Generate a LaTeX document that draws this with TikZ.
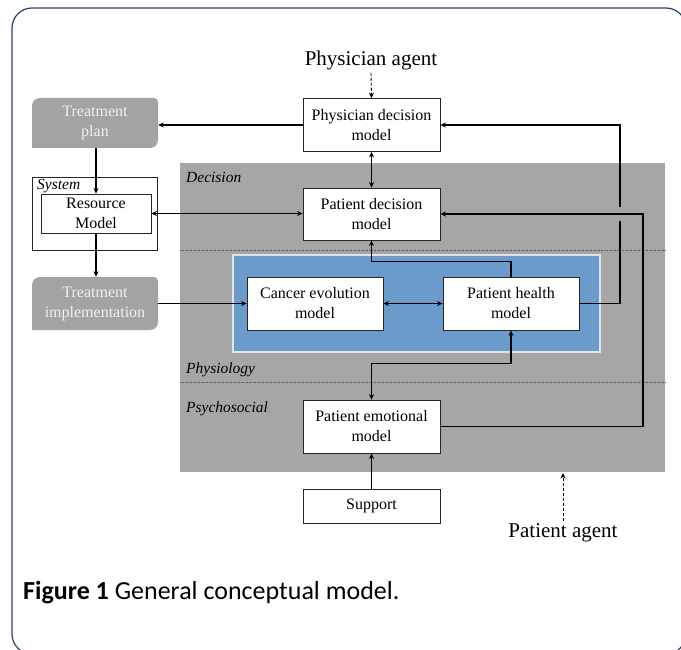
\documentclass[tikz,border=0pt]{standalone}
\usepackage{fontspec}
\setmainfont{Liberation Serif}
\newfontfamily\capfont{Carlito}
\usetikzlibrary{arrows.meta,calc}
\definecolor{frameblue}{HTML}{2B3F6B}
\definecolor{bggray}{HTML}{A6A6A6}
\definecolor{tgray}{HTML}{A3A3A3}
\definecolor{midblue}{HTML}{6B9BCB}
\definecolor{lightedge}{HTML}{DCE6F2}
\definecolor{dotgray}{HTML}{5A5A5A}
\tikzset{
  box/.style={draw=black!85, line width=0.8pt, fill=white, align=center, inner sep=0pt,
    font=\fontsize{16}{20}\selectfont},
  grbox/.style={align=center, inner sep=0pt, text=white!94!black,
    font=\fontsize{16}{20}\selectfont},
  lab/.style={anchor=west, inner sep=0pt, font=\fontsize{15.5}{17}\selectfont\itshape},
  agent/.style={inner sep=0pt, font=\fontsize{21}{24}\selectfont},
  arr/.style={line width=1.3pt, -{Stealth[length=5.5pt,width=5pt]}},
  darr/.style={line width=1.3pt, {Stealth[length=5.5pt,width=5pt]}-{Stealth[length=5.5pt,width=5pt]}},
  dasharr/.style={line width=0.9pt, dashed, dash pattern=on 3pt off 2pt, -{Stealth[length=5.5pt,width=5pt]}},
  sep/.style={densely dotted, dotgray, line width=0.6pt}
}
\begin{document}
\begin{tikzpicture}[x=1pt,y=-1pt]
\useasboundingbox (0,0) rectangle (681,650);
\begin{scope}
\clip (0,0) rectangle (681,650);
\draw[frameblue, line width=1.2pt, rounded corners=20pt] (12,8) rectangle (686,654);
\end{scope}

% background regions
\fill[bggray] (180,163) rectangle (665,472);
\draw[sep] (180,250) -- (665,250);
\draw[sep] (180,382) -- (665,382);
\fill[midblue, draw=lightedge, line width=1.5pt] (233,255) rectangle (600,352);

% labels
\node[lab] (ldec) at (186,177) {Decision};
\node[lab] (lphy) at (186,370) {Physiology};
\node[lab] (lpsy) at (186,409) {Psychosocial};

% system box
\draw[black!85, line width=0.8pt] (32,177) rectangle (157,250);
\node[lab] (lsys) at (37,186) {System};

% treatment shapes (drawn before their text)
\fill[tgray] (32,148) -- (32,106) to[out=90,in=180] (40,98) -- (154,98) to[out=0,in=90] (158,102) -- (158,140) to[out=270,in=0] (150,148) -- cycle;
\fill[tgray] (32,330) -- (32,285) to[out=90,in=180] (40,277) -- (154,277) to[out=0,in=90] (158,281) -- (158,322) to[out=270,in=0] (150,330) -- cycle;

% nodes
\node[box, minimum width=137pt, minimum height=53pt] (pdm) at (371.5,125) {Physician decision\\model};
\node[box, minimum width=137pt, minimum height=52pt] (pdem) at (371.5,214) {Patient decision\\model};
\node[box, minimum width=136pt, minimum height=53pt] (cem) at (315,303.5) {Cancer evolution\\model};
\node[box, minimum width=136pt, minimum height=53pt] (phm) at (511,303.5) {Patient health\\model};
\node[box, minimum width=137pt, minimum height=53pt] (pem) at (371.5,426.5) {Patient emotional\\model};
\node[box, minimum width=137pt, minimum height=34pt] (sup) at (371.5,506) {Support};
\node[box, minimum width=110pt, minimum height=39pt] (rm) at (96,213.5) {Resource\\Model};
\node[grbox, minimum width=126pt, minimum height=50pt] (tp) at (95,123) {Treatment\\plan};
\node[grbox, minimum width=126pt, minimum height=53pt] (ti) at (95,303.5) {Treatment\\implementation};

% agents
\node[agent] (pag) at (371,60) {Physician agent};
\node[agent] (pat) at (563,533) {Patient agent};
\coordinate (gtop) at (563,473);

% caption
\node[anchor=west, inner sep=0pt, font=\capfont\fontsize{26}{30}\selectfont] (cap) at (23,593) {\textbf{Figure 1} General conceptual model.};

% connectors
\draw[dasharr] (pag.south) ++(0,3) -- (pdm.north);
\draw[dasharr] (pat.north) ++(0,-3) -- (gtop);
\draw[arr] (pdm.west) -- (pdm.west -| tp.east);
\draw[arr] (tp.south -| rm.north) -- (rm.north);
\draw[darr] (rm.east) -- (rm.east -| pdem.west);
\draw[arr] (rm.south) -- (rm.south |- ti.north);
\draw[arr] (ti.east) -- (cem.west);
\draw[darr] (pdm.south) -- (pdem.north);
\draw[darr] (cem.east) -- (phm.west);
\draw[arr] (phm.north) -- ++(0,-15) -| (pdem.south);
\coordinate (g1) at (620,221);
\coordinate (g2) at (620,207);
\draw[line width=1.3pt] (phm.east) -| (g1);
\draw[arr] (g2) |- (pdm.east);
\draw[arr] (pem.east) -- (643,426.5) |- (pdem.east);
\draw[darr] (phm.south) -- ++(0,33) -| (pem.north);
\draw[arr] (sup.north) -- (pem.south);
\end{tikzpicture}
\end{document}
